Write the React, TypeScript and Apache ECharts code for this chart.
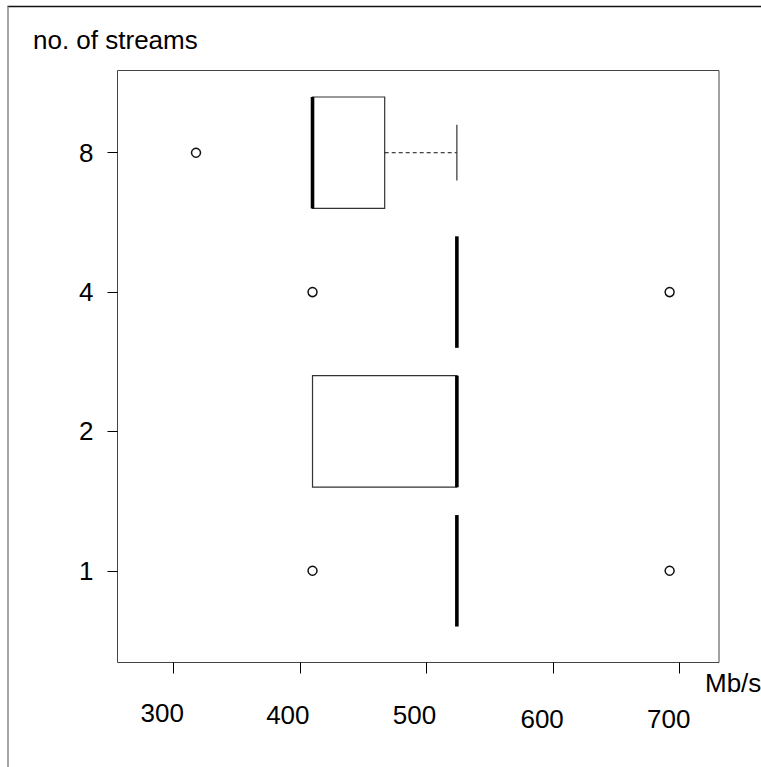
import React, { useEffect, useRef } from "react";
import * as echarts from "echarts";

const categories = ["1", "2", "4", "8"];
const lowerWhisker = [524, 410, 524, 410];
const lowerQuartile = [524, 410, 524, 410];
const medians = [524, 524, 524, 410];
const upperQuartile = [524, 524, 524, 467];
const upperWhisker = [524, 524, 524, 524];
const outlierCategory = [0, 0, 2, 2, 3];
const outlierValue = [410, 692, 410, 692, 318];
const xTicks = [300, 400, 500, 600, 700];

const FONT = "'Liberation Sans', Arial, Helvetica, sans-serif";

export default function App() {
  const ref = useRef<HTMLDivElement>(null);
  useEffect(() => {
    if (!ref.current) return;
    const chart = echarts.init(ref.current, null, { renderer: "svg" });
    const boxData = categories.map((_, i) => [
      i + 1,
      lowerWhisker[i],
      lowerQuartile[i],
      medians[i],
      upperQuartile[i],
      upperWhisker[i],
    ]);
    const outlierData = outlierValue.map((v, i) => [v, outlierCategory[i] + 1]);

    const renderItem = (params: any, api: any) => {
      const y = api.value(0);
      const lo = api.value(1);
      const q1 = api.value(2);
      const med = api.value(3);
      const q3 = api.value(4);
      const hi = api.value(5);
      const half = api.size([0, 0.4])[1];
      const capHalf = api.size([0, 0.2])[1];
      const pLo = api.coord([lo, y]);
      const pQ1 = api.coord([q1, y]);
      const pMed = api.coord([med, y]);
      const pQ3 = api.coord([q3, y]);
      const pHi = api.coord([hi, y]);
      const cy = pMed[1];
      const children: any[] = [];
      if (q3 > q1) {
        children.push({
          type: "rect",
          shape: { x: pQ1[0], y: cy - half, width: pQ3[0] - pQ1[0], height: 2 * half },
          style: { fill: "#fff", stroke: "#333", lineWidth: 1.2 },
        });
      }
      if (hi > q3) {
        children.push({
          type: "line",
          shape: { x1: pQ3[0], y1: cy, x2: pHi[0], y2: cy },
          style: { stroke: "#111", lineWidth: 1, lineDash: [4, 3] },
        });
        children.push({
          type: "line",
          shape: { x1: pHi[0], y1: cy - capHalf, x2: pHi[0], y2: cy + capHalf },
          style: { stroke: "#333", lineWidth: 1.2 },
        });
      }
      if (lo < q1) {
        children.push({
          type: "line",
          shape: { x1: pLo[0], y1: cy, x2: pQ1[0], y2: cy },
          style: { stroke: "#111", lineWidth: 1, lineDash: [4, 3] },
        });
        children.push({
          type: "line",
          shape: { x1: pLo[0], y1: cy - capHalf, x2: pLo[0], y2: cy + capHalf },
          style: { stroke: "#333", lineWidth: 1.2 },
        });
      }
      children.push({
        type: "line",
        shape: { x1: pMed[0], y1: cy - half, x2: pMed[0], y2: cy + half },
        style: { stroke: "#000", lineWidth: 3.6 },
      });
      return { type: "group", children };
    };

    const labelStyleKey = (v: number) => (v >= 600 ? "c" : v >= 400 ? "b" : "a");

    chart.setOption({
      animation: false,
      backgroundColor: "#fff",
      textStyle: { fontFamily: FONT },
      grid: {
        left: 117.5,
        right: 42,
        top: 70.5,
        bottom: 104.5,
        show: true,
        borderColor: "#444",
        borderWidth: 1,
        backgroundColor: "transparent",
      },
      xAxis: {
        type: "value",
        min: 256,
        max: 731,
        axisLine: { show: false },
        splitLine: { show: false },
        axisTick: {
          show: true,
          customValues: xTicks,
          length: 11,
          lineStyle: { color: "#000", width: 1 },
        },
        axisLabel: {
          customValues: xTicks,
          formatter: (v: number) => `{${labelStyleKey(v)}|${v}}`,
          fontSize: 26,
          color: "#000",
          margin: 37,
          fontFamily: FONT,
          rich: {
            a: { fontSize: 26, fontFamily: FONT, color: "#000", padding: [0, 22, 0, 0] },
            b: { fontSize: 26, fontFamily: FONT, color: "#000", padding: [2, 24, 0, 0] },
            c: { fontSize: 26, fontFamily: FONT, color: "#000", padding: [6, 22, 0, 0] },
          },
        },
      },
      yAxis: {
        type: "value",
        min: 0.342,
        max: 4.59,
        axisLine: { show: false },
        splitLine: { show: false },
        axisTick: {
          show: true,
          customValues: [1, 2, 3, 4],
          length: 10,
          lineStyle: { color: "#000", width: 1 },
        },
        axisLabel: {
          customValues: [1, 2, 3, 4],
          formatter: (v: number) => categories[Math.round(v) - 1] ?? "",
          fontSize: 26,
          color: "#000",
          margin: 24,
          fontFamily: FONT,
        },
      },
      graphic: [
        {
          type: "line",
          shape: { x1: 7.5, y1: 6.5, x2: 761, y2: 6.5 },
          style: { stroke: "#111", lineWidth: 1.5 },
        },
        {
          type: "line",
          shape: { x1: 8, y1: 6.5, x2: 8, y2: 767 },
          style: { stroke: "#888", lineWidth: 1.5 },
        },
        {
          type: "text",
          x: 33,
          y: 40,
          style: {
            text: "no. of streams",
            fontSize: 26,
            fontFamily: FONT,
            fill: "#000",
            textAlign: "left",
            textVerticalAlign: "middle",
          },
        },
        {
          type: "text",
          x: 705,
          y: 683,
          style: {
            text: "Mb/s",
            fontSize: 26,
            fontFamily: FONT,
            fill: "#000",
            textAlign: "left",
            textVerticalAlign: "middle",
          },
        },
      ],
      series: [
        {
          type: "custom",
          renderItem,
          data: boxData,
          encode: { x: [1, 2, 3, 4, 5], y: 0 },
          z: 2,
        },
        {
          type: "scatter",
          data: outlierData,
          symbol: "circle",
          symbolSize: 9,
          itemStyle: { color: "#fff", borderColor: "#111", borderWidth: 1.5, opacity: 1 },
          z: 3,
        },
      ],
    });
    return () => chart.dispose();
  }, []);
  return (
    <div
      ref={ref}
      style={{ position: "absolute", left: 0, top: 0, width: 761, height: 767 }}
    />
  );
}
